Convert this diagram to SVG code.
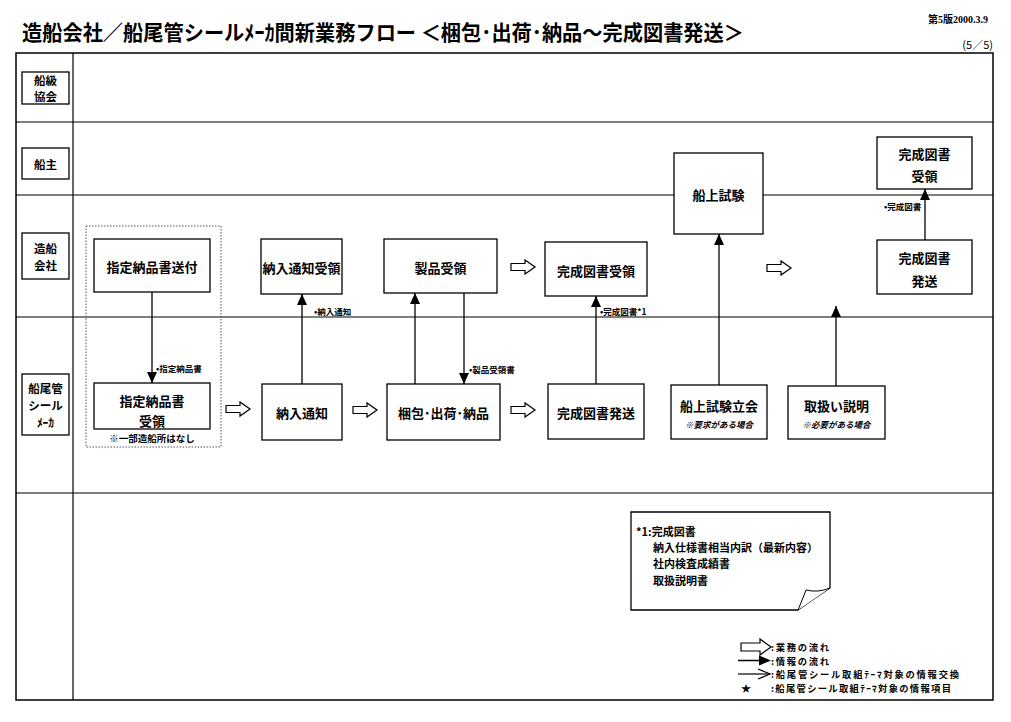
<svg xmlns="http://www.w3.org/2000/svg" width="1011" height="722" viewBox="0 0 1011 722">
<defs>
<style>
text{font-family:"Noto Sans CJK JP","Liberation Sans",sans-serif;fill:#000;}
.t{font-size:13px;font-weight:bold;text-anchor:middle;dominant-baseline:central;}
.lane{font-size:11.5px;font-weight:bold;text-anchor:middle;dominant-baseline:central;}
.s{font-size:8.5px;font-weight:bold;dominant-baseline:central;}
.i{font-size:8.5px;font-weight:bold;font-style:italic;text-anchor:middle;dominant-baseline:central;}
.nt{font-size:11px;font-weight:bold;dominant-baseline:central;}
.lg{font-size:9.3px;font-weight:bold;dominant-baseline:central;}
.box{fill:#fff;stroke:#000;stroke-width:1.3;}
.frame{fill:none;stroke:#000;stroke-width:1.5;}
.ln{stroke:#000;stroke-width:1.2;fill:none;}
.arr{stroke:#000;stroke-width:1.3;fill:none;marker-end:url(#ah);}
.hollow{fill:#fff;stroke:#000;stroke-width:1.2;}
</style>
<marker id="ah" markerUnits="userSpaceOnUse" markerWidth="12" markerHeight="12" viewBox="0 0 12 12" refX="11" refY="6" orient="auto">
<path d="M0,1 L11,6 L0,11 Z" fill="#000"/>
</marker>
<marker id="ao" markerUnits="userSpaceOnUse" markerWidth="14" markerHeight="12" viewBox="0 0 14 12" refX="13" refY="6" orient="auto">
<path d="M1,1 L13,6 L1,11" fill="none" stroke="#000" stroke-width="1.2"/>
</marker>
<path id="ha" d="M0,-3.5 L14,-3.5 L14,-7 L24,0 L14,7 L14,3.5 L0,3.5 Z"/>
</defs>

<rect width="1011" height="722" fill="#fff"/>

<!-- title -->
<text x="22" y="31" font-size="21" font-weight="bold" textLength="722" lengthAdjust="spacingAndGlyphs" dominant-baseline="central">造船会社／船尾管シールﾒｰｶ間新業務フロー ＜梱包･出荷･納品～完成図書発送＞</text>
<text x="988" y="19" font-size="10" text-anchor="end" dominant-baseline="central" style="font-family:'Liberation Serif','Noto Sans CJK JP',serif" font-weight="bold">第5版2000.3.9</text>
<text x="993" y="44" font-size="11" text-anchor="end" dominant-baseline="central">(5／5)</text>

<!-- frame and lanes -->
<g id="frame">
<rect class="frame" x="16" y="53" width="977" height="647"/>
<line class="ln" x1="73" y1="53" x2="73" y2="700" stroke-width="1.5"/>
<line class="ln" x1="16" y1="122" x2="993" y2="122"/>
<line class="ln" x1="16" y1="195" x2="993" y2="195"/>
<line class="ln" x1="16" y1="317" x2="993" y2="317"/>
<line class="ln" x1="16" y1="493" x2="993" y2="493"/>
</g>

<g id="lane-labels">
<g id="lane1"><rect class="box" x="22" y="72" width="47" height="32"/><text class="lane" x="45.5" y="80" font-size="11">船級</text><text class="lane" x="45.5" y="96" font-size="11">協会</text></g>
<g id="lane2"><rect class="box" x="22" y="148" width="47" height="31"/><text class="lane" x="45.5" y="163.5">船主</text></g>
<g id="lane3"><rect class="box" x="22" y="233" width="47" height="46"/><text class="lane" x="45.5" y="247.5">造船</text><text class="lane" x="45.5" y="264.5">会社</text></g>
<g id="lane4"><rect class="box" x="22" y="374" width="47" height="61"/><text class="lane" x="45.5" y="388">船尾管</text><text class="lane" x="45.5" y="405">シール</text><text class="lane" x="45.5" y="422">ﾒｰｶ</text></g>
</g>

<!-- dotted group -->
<rect x="86" y="226" width="135" height="221" fill="none" stroke="#555" stroke-width="1" stroke-dasharray="1.5 1.5"/>

<!-- connectors -->
<g id="connectors">
<line class="arr" x1="152" y1="292" x2="152" y2="383"/>
<line class="arr" x1="302" y1="384" x2="302" y2="294"/>
<line class="arr" x1="415" y1="384" x2="415" y2="293"/>
<line class="arr" x1="464" y1="293" x2="464" y2="384"/>
<line class="arr" x1="596" y1="384" x2="596" y2="296"/>
<line class="arr" x1="719" y1="385" x2="719" y2="234"/>
<line class="arr" x1="836" y1="386" x2="836" y2="306"/>
<line class="arr" x1="925" y1="240" x2="925" y2="189"/>
<text class="s" x="156" y="368">•指定納品書</text>
<text class="s" x="314" y="311">•納入通知</text>
<text class="s" x="469" y="369">•製品受領書</text>
<text class="s" x="600" y="311">•完成図書*1</text>
<text class="s" x="884" y="206">•完成図書</text>
<use href="#ha" class="hollow" x="226" y="409"/>
<use href="#ha" class="hollow" x="353" y="410"/>
<use href="#ha" class="hollow" x="511" y="410"/>
<use href="#ha" class="hollow" x="511" y="267"/>
<use href="#ha" class="hollow" x="767" y="268"/>
</g>

<!-- nodes -->
<g id="n-soufu"><rect class="box" x="94" y="239" width="116" height="53"/><text class="t" x="152" y="266">指定納品書送付</text></g>
<g id="n-juryo1"><rect class="box" x="94" y="383" width="116" height="46"/><text class="t" x="152" y="400">指定納品書</text><text class="t" x="152" y="420">受領</text></g>
<text x="152" y="438" font-size="9.5" font-weight="bold" text-anchor="middle" dominant-baseline="central">※一部造船所はなし</text>
<g id="n-tsuchi-juryo"><rect class="box" x="261" y="239" width="81" height="55"/><text class="t" x="301.5" y="267">納入通知受領</text></g>
<g id="n-tsuchi"><rect class="box" x="262" y="384" width="80" height="56"/><text class="t" x="302" y="412">納入通知</text></g>
<g id="n-seihin"><rect class="box" x="384" y="239" width="113" height="54"/><text class="t" x="440.5" y="267">製品受領</text></g>
<g id="n-konpo"><rect class="box" x="387" y="384" width="113" height="56"/><text class="t" x="443.5" y="412">梱包･出荷･納品</text></g>
<g id="n-kansei-juryo"><rect class="box" x="545" y="242" width="102" height="54"/><text class="t" x="596" y="270">完成図書受領</text></g>
<g id="n-kansei-hasso"><rect class="box" x="548" y="384" width="96" height="55"/><text class="t" x="596" y="412">完成図書発送</text></g>
<g id="n-senjo"><rect class="box" x="674" y="153" width="89" height="81"/><text class="t" x="718.5" y="194">船上試験</text></g>
<g id="n-tachiai"><rect class="box" x="671" y="385" width="96" height="54"/><text class="t" x="719" y="405">船上試験立会</text><text class="i" x="719" y="424">※要求がある場合</text></g>
<g id="n-setsumei"><rect class="box" x="788" y="386" width="97" height="53"/><text class="t" x="836.5" y="405">取扱い説明</text><text class="i" x="836.5" y="424">※必要がある場合</text></g>
<g id="n-owner-juryo"><rect class="box" x="877" y="137" width="95" height="52"/><text class="t" x="924.5" y="153">完成図書</text><text class="t" x="924.5" y="175">受領</text></g>
<g id="n-hasso2"><rect class="box" x="877" y="240" width="95" height="54"/><text class="t" x="924.5" y="257">完成図書</text><text class="t" x="924.5" y="280">発送</text></g>

<!-- note -->
<g id="note">
<path d="M631,512 L830,512 L830,588 Q812,600 798,610 L631,610 Z" fill="#fff" stroke="#000" stroke-width="1.3"/>
<path d="M798,610 Q803,598 806,590 Q818,593 830,588" fill="#fff" stroke="#000" stroke-width="1"/>
<text class="nt" x="636" y="531">*1:完成図書</text>
<text class="nt" x="653" y="547">納入仕様書相当内訳（最新内容）</text>
<text class="nt" x="653" y="563">社内検査成績書</text>
<text class="nt" x="653" y="580">取扱説明書</text>
</g>

<!-- legend -->
<g id="legend">
<path class="hollow" d="M741,643 L760,643 L760,639 L771,647 L760,655 L760,651 L741,651 Z"/>
<line x1="738" y1="660.5" x2="760" y2="660.5" stroke="#000" stroke-width="1.5"/>
<path d="M759,655.5 L771,660.5 L759,665.5 Z" fill="#000"/>
<line x1="738" y1="674" x2="770" y2="674" stroke="#000" stroke-width="1.2" marker-end="url(#ao)"/>
<text x="746" y="687.5" font-size="10" text-anchor="middle" dominant-baseline="central">★</text>
<text class="lg" x="771" y="647" textLength="58" lengthAdjust="spacing">:業務の流れ</text>
<text class="lg" x="771" y="660.5" textLength="58" lengthAdjust="spacing">:情報の流れ</text>
<text class="lg" x="771" y="674" textLength="188" lengthAdjust="spacing">:船尾管シール取組ﾃｰﾏ対象の情報交換</text>
<text class="lg" x="771" y="687.5" textLength="180" lengthAdjust="spacing">:船尾管シール取組ﾃｰﾏ対象の情報項目</text>
</g>
</svg>
